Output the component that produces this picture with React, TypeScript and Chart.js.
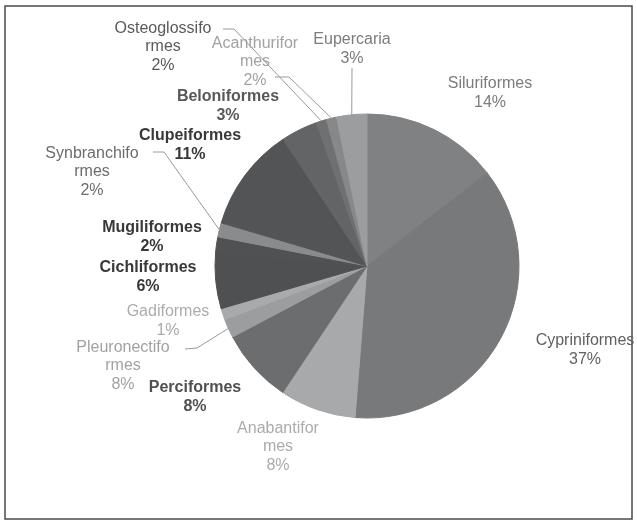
import React, { useEffect, useRef } from "react";
import Chart from "chart.js/auto";

const categories = [
  "Siluriformes", "Cypriniformes", "Anabantiformes", "Perciformes",
  "Pleuronectiformes", "Gadiformes", "Cichliformes", "Mugiliformes",
  "Synbranchiformes", "Clupeiformes", "Beloniformes", "Osteoglossiformes",
  "Acanthuriformes", "Eupercaria",
];
const values = [14.5, 36.7, 8.1, 7.9, 2.0, 1.2, 6.0, 1.6, 1.5, 11.1, 3.9, 1.1, 1.1, 3.2];
const percentLabels = ["14%", "37%", "8%", "8%", "8%", "1%", "6%", "2%", "2%", "11%", "3%", "2%", "2%", "3%"];
const nameLines = [
  ["Siluriformes"], ["Cypriniformes"], ["Anabantifor", "mes"], ["Perciformes"],
  ["Pleuronectifo", "rmes"], ["Gadiformes"], ["Cichliformes"], ["Mugiliformes"],
  ["Synbranchifo", "rmes"], ["Clupeiformes"], ["Beloniformes"], ["Osteoglossifo", "rmes"],
  ["Acanthurifor", "mes"], ["Eupercaria"],
];
const sliceColors = [
  "#808183", "#78797b", "#a8a9ab", "#6c6d6f", "#9c9d9f", "#a9aaac", "#4f5052",
  "#505153", "#8a8b8d", "#535456", "#636466", "#6f7072", "#87888a", "#9c9d9f",
];
const labelColors = [
  "#7c7c7c", "#606060", "#ababab", "#505050", "#a2a2a2", "#ababab", "#383838",
  "#383838", "#6c6c6c", "#383838", "#585858", "#5a5a5a", "#a2a2a2", "#7c7c7c",
];
const labelBold = [false, false, false, true, false, false, true, true, false, true, true, false, false, false];
// label block centres relative to the pie centre
const labelOffsets = [
  [123, -173], [218, 84], [-89, 181], [-172, 131], [-244, 100], [-199, 55], [-219, 11],
  [-215, -29], [-275, -94], [-177, -121], [-139, -160], [-204, -219], [-112, -204], [-15, -217],
];
// leader lines: start and elbow relative to pie centre, end at the slice edge
const leaders: (number[] | null)[] = [
  null, null, null, null, [-182, 83, -170, 82], null, null, null,
  [-214, -114, -203, -114], null, null, [-144, -237, -133, -237], [-92, -189, -78, -189], [-15, -198, -15, -198],
];

const labelPlugin = {
  id: "outsideLabels",
  beforeDraw(chart: any) {
    const ctx = chart.ctx;
    ctx.save();
    ctx.fillStyle = "#ffffff";
    ctx.fillRect(0, 0, chart.width, chart.height);
    ctx.restore();
  },
  afterDraw(chart: any) {
    const ctx = chart.ctx;
    const meta = chart.getDatasetMeta(0);
    ctx.save();
    // frame
    ctx.strokeStyle = "#4a4a4a";
    ctx.lineWidth = 1.5;
    ctx.strokeRect(5, 6, 627, 513);
    const lh = 18.5;
    meta.data.forEach((arc: any, i: number) => {
      const p = arc.getProps(["x", "y", "startAngle", "endAngle", "outerRadius"], true);
      const cx = p.x, cy = p.y;
      const mid = (p.startAngle + p.endAngle) / 2;
      const ex = cx + Math.cos(mid) * p.outerRadius;
      const ey = cy + Math.sin(mid) * p.outerRadius;
      const ld = leaders[i];
      if (ld) {
        ctx.strokeStyle = "#9a9a9a";
        ctx.lineWidth = 1;
        ctx.beginPath();
        ctx.moveTo(cx + ld[0], cy + ld[1]);
        ctx.lineTo(cx + ld[2], cy + ld[3]);
        ctx.lineTo(ex, ey);
        ctx.stroke();
      }
      const lines = [...nameLines[i], percentLabels[i]];
      const [ox, oy] = labelOffsets[i];
      ctx.fillStyle = labelColors[i];
      ctx.font = `${labelBold[i] ? "bold " : ""}16px "Liberation Sans", Arial, sans-serif`;
      ctx.textAlign = "center";
      ctx.textBaseline = "middle";
      lines.forEach((t, k) => {
        ctx.fillText(t, cx + ox, cy + oy + (k - (lines.length - 1) / 2) * lh);
      });
    });
    ctx.restore();
  },
};

export default function App() {
  const ref = useRef<HTMLCanvasElement>(null);
  useEffect(() => {
    if (!ref.current) return;
    const chart = new Chart(ref.current, {
      type: "pie",
      data: {
        labels: categories,
        datasets: [{ data: values, backgroundColor: sliceColors, borderColor: sliceColors, borderWidth: 1 }],
      },
      options: {
        responsive: false,
        animation: false,
        layout: { padding: { left: 214.5, right: 117.5, top: 113.5, bottom: 104.5 } },
        plugins: { legend: { display: false }, tooltip: { enabled: false } },
      },
      plugins: [labelPlugin],
    });
    return () => chart.destroy();
  }, []);
  return (
    <div style={{ position: "absolute", left: 0, top: 0, width: 637, height: 523, background: "#fff" }}>
      <canvas ref={ref} width={637} height={523} style={{ width: 637, height: 523 }} />
    </div>
  );
}
